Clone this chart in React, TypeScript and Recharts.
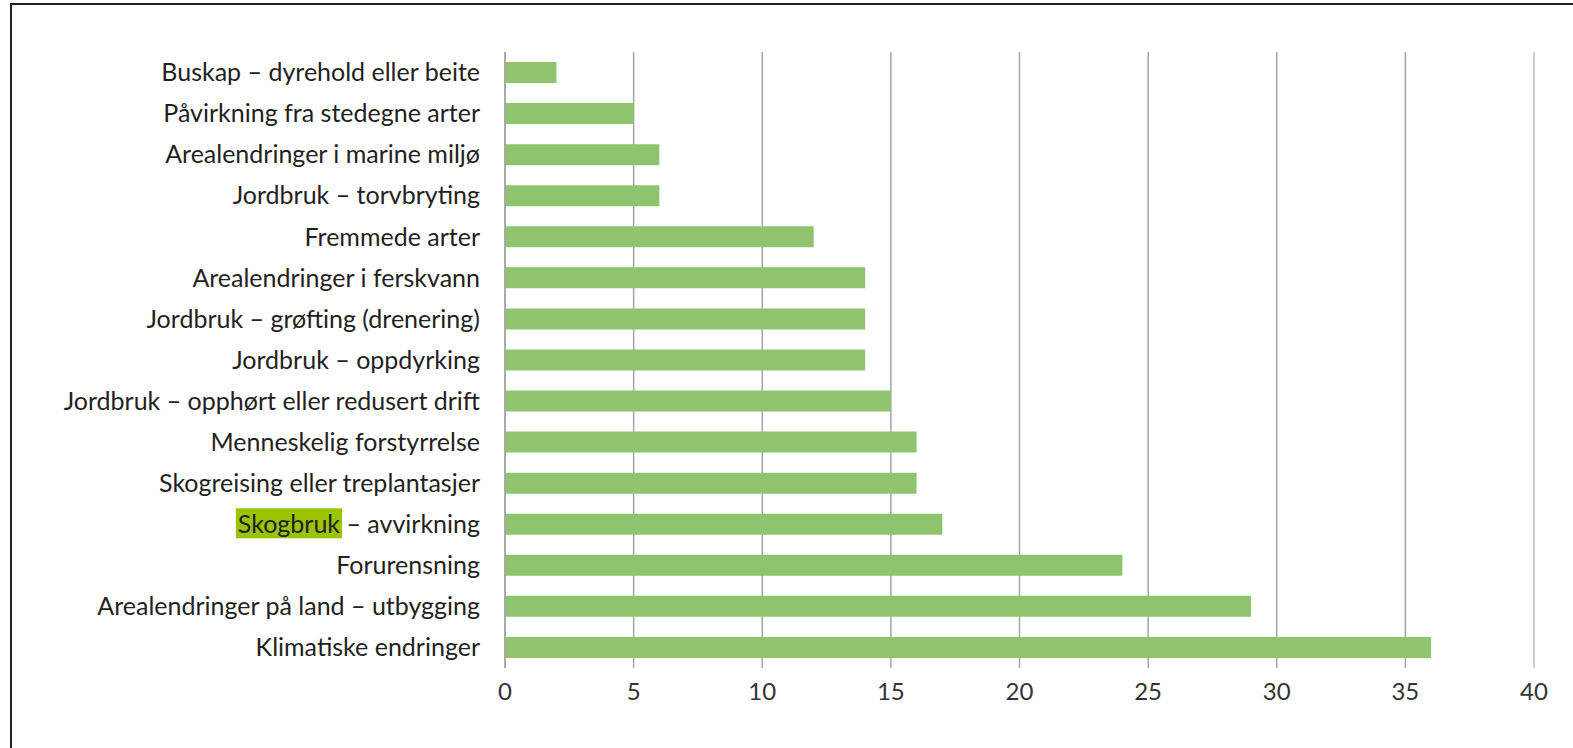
import React from 'react';
import { BarChart, Bar, XAxis, YAxis, CartesianGrid, ReferenceLine } from 'recharts';

const categories = [
  'Buskap – dyrehold eller beite',
  'Påvirkning fra stedegne arter',
  'Arealendringer i marine miljø',
  'Jordbruk – torvbryting',
  'Fremmede arter',
  'Arealendringer i ferskvann',
  'Jordbruk – grøfting (drenering)',
  'Jordbruk – oppdyrking',
  'Jordbruk – opphørt eller redusert drift',
  'Menneskelig forstyrrelse',
  'Skogreising eller treplantasjer',
  'Skogbruk – avvirkning',
  'Forurensning',
  'Arealendringer på land – utbygging',
  'Klimatiske endringer',
];

const counts = [2, 5, 6, 6, 12, 14, 14, 14, 15, 16, 16, 17, 24, 29, 36];

const xTicks = [0, 5, 10, 15, 20, 25, 30, 35, 40];

const highlightWord = 'Skogbruk';

const data = categories.map((name, i) => ({ name, value: counts[i] }));

const FONT = 'Lato, sans-serif';
const FONT_SIZE = 25;

let ctx: CanvasRenderingContext2D | null = null;
const measure = (s: string) => {
  if (!ctx) ctx = document.createElement('canvas').getContext('2d');
  if (!ctx) return s.length * FONT_SIZE * 0.45;
  ctx.font = `${FONT_SIZE}px Lato`;
  return ctx.measureText(s).width;
};

// y-axis label, with a green marker behind the highlighted word
const CategoryTick = (props: any) => {
  const { x, y, payload } = props;
  const label: string = payload.value;
  let rect = null;
  if (label.startsWith(highlightWord)) {
    const total = measure(label);
    const wordW = measure(highlightWord);
    rect = <rect x={x - total - 2} y={y - 16} width={wordW + 4} height={30} fill="#9bc400" />;
  }
  return (
    <g>
      {rect}
      <text x={x} y={y} dy="0.35em" textAnchor="end" fill="#231f20" fontSize={FONT_SIZE} fontFamily={FONT}>
        {label}
      </text>
    </g>
  );
};

export default function App() {
  return (
    <div
      style={{
        position: 'absolute',
        left: 0,
        top: 0,
        width: 1573,
        height: 748,
        overflow: 'hidden',
        background: '#fff',
      }}
    >
      <div
        style={{
          position: 'absolute',
          left: 10,
          top: 3,
          width: 1563,
          height: 745,
          boxSizing: 'border-box',
          borderTop: '2px solid #222',
          borderLeft: '2px solid #222',
        }}
      />
      <div style={{ position: 'absolute', left: 0, top: 0 }}>
        <BarChart
          width={1573}
          height={748}
          data={data}
          layout="vertical"
          margin={{ top: 52, right: 39, bottom: 40, left: 0 }}
        >
          <CartesianGrid horizontal={false} stroke="#a6a6a6" strokeWidth={1.5} />
          <XAxis
            type="number"
            domain={[0, 40]}
            ticks={xTicks}
            axisLine={false}
            tickLine={false}
            tickMargin={9}
            height={40}
            tick={{ fill: '#333', fontSize: 24, fontFamily: FONT }}
          />
          <YAxis
            type="category"
            dataKey="name"
            width={505}
            axisLine={{ stroke: '#a6a6a6', strokeWidth: 1.5 }}
            tickLine={false}
            tickMargin={19}
            interval={0}
            tick={<CategoryTick />}
          />
          <ReferenceLine x={40} stroke="#cfcfcf" strokeWidth={2} />
          <Bar dataKey="value" fill="#8fc46f" barSize={21} isAnimationActive={false} />
        </BarChart>
      </div>
    </div>
  );
}
